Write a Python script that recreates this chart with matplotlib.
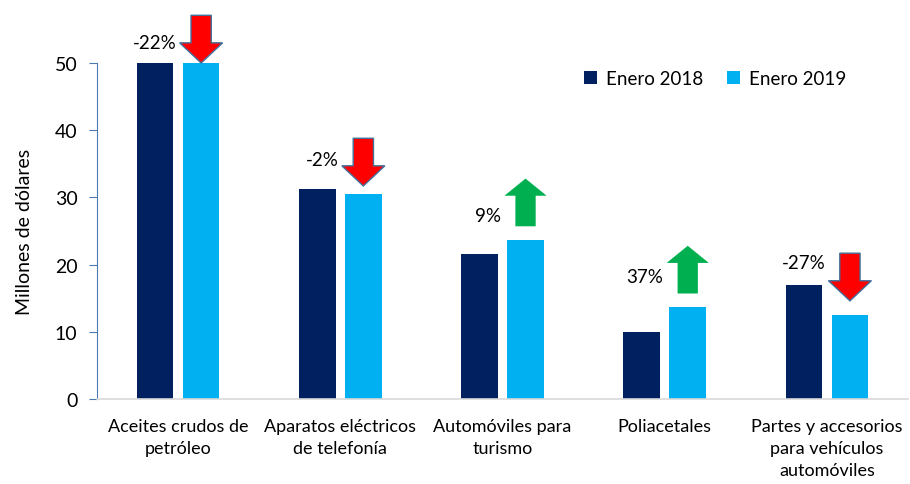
import numpy as np
import matplotlib
matplotlib.use('Agg')
import matplotlib.pyplot as plt

plt.rcParams['font.family'] = ['Lato', 'DejaVu Sans']

# datos (millones de dolares), el primer grupo pasa del tope del eje
categorias = ['Aceites crudos de\npetróleo', 'Aparatos eléctricos\nde telefonía',
              'Automóviles para\nturismo', 'Poliacetales',
              'Partes y accesorios\npara vehículos\nautomóviles']
enero_2018 = [70.5, 31.2, 21.6, 10.0, 17.0]
enero_2019 = [55.0, 30.5, 23.7, 13.7, 12.5]
variacion = ['-22%', '-2%', '9%', '37%', '-27%']

c18 = '#002060'
c19 = '#00B0F0'

fig = plt.figure(figsize=(9.1, 4.85), dpi=100)
ax = fig.add_axes([97 / 910, 85 / 485, 811 / 910, 336 / 485])

x = np.arange(len(categorias))
w = 0.225
off = 0.142
ax.bar(x - off, enero_2018, w, color=c18, label='Enero 2018')
ax.bar(x + off, enero_2019, w, color=c19, label='Enero 2019')

ax.set_xlim(-0.5, len(categorias) - 0.5)
ax.set_ylim(0, 50)
ax.set_yticks([0, 10, 20, 30, 40, 50])
ax.tick_params(axis='y', labelsize=14, length=6, color='#4a7ab0', pad=8)
ax.tick_params(axis='x', length=0, labelsize=13, pad=14)
ax.set_xticks(x)
ax.set_xticklabels(categorias, linespacing=1.45)
for s in ['top', 'right']:
    ax.spines[s].set_visible(False)
ax.spines['left'].set_color('#4a7ab0')
ax.spines['bottom'].set_color('#d9d9d9')
ax.spines['bottom'].set_linewidth(1.2)
ax.set_ylabel('Millones de dólares', fontsize=14, labelpad=16)

# flechas de variacion
largo = 7.1
cabeza = 3.0
ajuste_texto = [-0.5, 0.4, -2.0, -1.0, 2.2]
for i in range(len(categorias)):
    v18 = enero_2018[i]
    v19 = enero_2019[i]
    tope = min(v19, 50)
    xc = x[i] + off
    if v19 < v18:
        punta = tope + (0.2 if v19 < 50 else 0.0) + (1.0 if 0 < i < 4 else 0.0)
        if i == 4:
            punta = tope + 2.1
        ax.arrow(xc, punta + largo, 0, -largo, width=0.125, head_width=0.265,
                 head_length=cabeza, length_includes_head=True,
                 fc='#FF0000', ec='#41719C', lw=1.0, clip_on=False)
        medio = punta + largo / 2
    else:
        base = tope + 2.0
        ax.arrow(xc, base, 0, largo, width=0.125, head_width=0.26,
                 head_length=cabeza * 0.85, length_includes_head=True,
                 fc='#00B050', ec='none', clip_on=False)
        medio = base + largo / 2
    ax.text(xc - 0.15, medio + ajuste_texto[i], variacion[i], ha='right',
            va='center', fontsize=13.5, clip_on=False)

ax.legend(loc='upper right', bbox_to_anchor=(0.945, 1.03), ncol=2, frameon=False,
          fontsize=13.5, handlelength=0.7, handleheight=0.7, columnspacing=1.25,
          handletextpad=0.5)

fig.savefig('out.png', dpi=100)
